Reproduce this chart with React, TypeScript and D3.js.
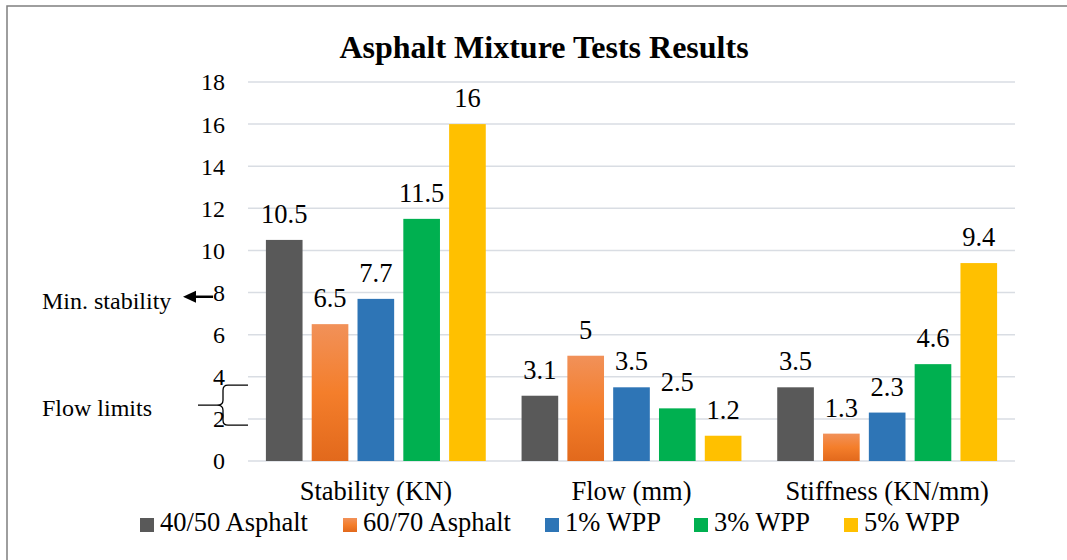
import React from 'react';
import * as d3 from 'd3';

const categories = ['Stability (KN)', 'Flow (mm)', 'Stiffness (KN/mm)'];
const seriesNames = ['40/50 Asphalt', '60/70 Asphalt', '1% WPP', '3% WPP', '5% WPP'];
const asphalt4050 = [10.5, 3.1, 3.5];
const asphalt6070 = [6.5, 5, 1.3];
const wpp1 = [7.7, 3.5, 2.3];
const wpp3 = [11.5, 2.5, 4.6];
const wpp5 = [16, 1.2, 9.4];
const yTicks = [0, 2, 4, 6, 8, 10, 12, 14, 16, 18];

const seriesValues = [asphalt4050, asphalt6070, wpp1, wpp3, wpp5];
const colors = ['#595959', 'url(#orangeGrad)', '#2E75B6', '#00B050', '#FFC000'];

export default function App() {
  const width = 1067;
  const height = 560;
  const margin = {top: 82, right: 52, bottom: 99, left: 248};

  const x0 = d3.scaleBand<string>()
    .domain(categories)
    .range([margin.left, width - margin.right]);

  const pad = x0.bandwidth() * 0.07;
  const x1 = d3.scaleBand<string>()
    .domain(seriesNames)
    .range([pad, x0.bandwidth() - pad])
    .paddingInner(0.2);

  const y = d3.scaleLinear()
    .domain([0, 18])
    .range([height - margin.bottom, margin.top]);

  // legend layout (x of each swatch)
  const legendX = [140, 343, 545, 694, 844];

  // annotation positions derived from the value scale
  const arrowY = y(7.8);
  const braceTop = y(3.6);
  const braceBot = y(1.7);
  const braceMid = (braceTop + braceBot) / 2;

  return (
    <svg width={width} height={height}
      style={{position: 'absolute', left: 0, top: 0, background: '#fff',
        fontFamily: "'Liberation Serif', 'Times New Roman', 'DejaVu Serif', serif"}}>
      <defs>
        <linearGradient id="orangeGrad" x1="0" y1="0" x2="0" y2="1">
          <stop offset="0%" stopColor="#F19159" />
          <stop offset="50%" stopColor="#F47E2B" />
          <stop offset="100%" stopColor="#E2691C" />
        </linearGradient>
      </defs>

      {/* outer frame */}
      <rect x={7} y={6} width={1100} height={600} fill="none" stroke="#7f7f7f" strokeWidth={1.5} />

      <text x={544} y={58} textAnchor="middle" fontSize={32} fontWeight="bold">
        Asphalt Mixture Tests Results
      </text>

      {/* gridlines + y labels */}
      <g>
        {yTicks.map(t => (
          <g key={t}>
            <line x1={margin.left} x2={width - margin.right} y1={y(t)} y2={y(t)}
              stroke="#D9DDE3" strokeWidth={1.5} />
            <text x={225} y={y(t)} dy="0.35em" textAnchor="end" fontSize={24}>
              {t}
            </text>
          </g>
        ))}
      </g>

      {/* bars */}
      <g>
        {categories.map((c, ci) => (
          <g key={c} transform={`translate(${x0(c)},0)`}>
            {seriesNames.map((s, si) => {
              const v = seriesValues[si][ci];
              const bx = x1(s)!;
              return (
                <g key={s}>
                  <rect x={bx} y={y(v)} width={x1.bandwidth()} height={y(0) - y(v)}
                    fill={colors[si]} />
                  <text x={bx + x1.bandwidth() / 2} y={y(v) - 17} textAnchor="middle"
                    fontSize={26.5}>
                    {v}
                  </text>
                </g>
              );
            })}
          </g>
        ))}
      </g>

      {/* category labels */}
      {categories.map(c => (
        <text key={c} x={x0(c)! + x0.bandwidth() / 2} y={500} textAnchor="middle" fontSize={26.5}>
          {c}
        </text>
      ))}

      {/* legend */}
      {seriesNames.map((s, i) => (
        <g key={s} transform={`translate(${legendX[i]},518)`}>
          <rect x={0} y={0} width={14} height={14} fill={colors[i]} />
          <text x={20} y={13} fontSize={26.5}>{s}</text>
        </g>
      ))}

      {/* annotations */}
      <text x={42} y={arrowY + 12} fontSize={24}>Min. stability</text>
      <line x1={213} x2={192} y1={arrowY} y2={arrowY} stroke="#000" strokeWidth={2.5} />
      <path d={`M183,${arrowY} L196,${arrowY - 6} L196,${arrowY + 6} Z`} fill="#000" />

      <text x={42} y={braceMid + 11} fontSize={24}>Flow limits</text>
      <path
        d={`M248,${braceTop} H228 Q223,${braceTop} 223,${braceTop + 5} V${braceMid - 5}
            Q223,${braceMid} 217,${braceMid} Q223,${braceMid} 223,${braceMid + 5}
            V${braceBot - 5} Q223,${braceBot} 228,${braceBot} H248
            M198,${braceMid} H217`}
        fill="none" stroke="#000" strokeWidth={1.3} />
    </svg>
  );
}
